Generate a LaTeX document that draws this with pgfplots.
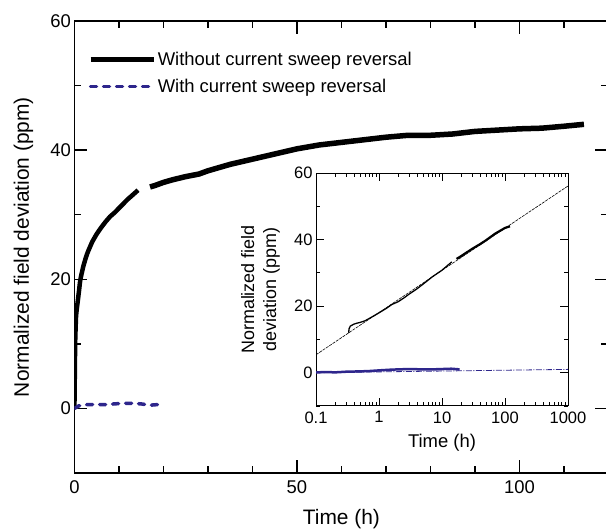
\documentclass[border=0pt]{standalone}
\usepackage{fontspec}
\setmainfont{Liberation Sans}
\usepackage{pgfplots}
\usepackage{pgfplotstable}
\pgfplotsset{compat=1.18}
\definecolor{sweepblue}{RGB}{46,38,140}

\pgfplotstableread{
t y
0 0
0.05 2.5
0.1 6
0.15 9
0.2 11
0.3 13
0.35 14
0.4 14.5
0.5 15.2
0.7 16.3
1.0 18
1.3 19.8
1.6 20.8
2 22
2.5 23.2
3 24.2
3.5 25
4 25.8
5 27
6 28
7 28.9
8 29.7
9 30.3
10 31
11 31.7
12 32.4
13 33
14.3 33.8
}\blackA

\pgfplotstableread{
t y
17 34.3
18 34.5
20 35
22 35.4
25 35.9
28 36.3
30 36.8
35 37.8
40 38.6
45 39.4
50 40.2
55 40.8
60 41.2
65 41.6
70 42
75 42.3
80 42.3
85 42.5
90 42.9
95 43.1
100 43.3
105 43.4
110 43.7
114.5 44
}\blackB

\pgfplotstableread{
t y
0 0
0.5 0.2
1 0.4
2 0.5
3 0.6
5 0.6
7 0.6
9 0.7
11 0.8
13 0.8
15 0.7
17 0.5
18.8 0.6
}\blueMain

\pgfplotstableread{
t y
0.33 12
0.335 13.2
0.35 14
0.4 14.6
0.45 14.9
0.5 15.1
0.6 15.6
0.7 16.3
0.85 17.2
1.0 18
1.3 19.3
1.6 20.5
2 21.3
2.5 22.5
3 23.6
4 25.2
5 26.6
7 28.8
10 30.8
14.3 33.3
}\insetA

\pgfplotstableread{
t y
17 34.2
20 35
30 37.2
40 38.6
50 39.8
70 41.8
100 43.5
120 44
}\insetB

\pgfplotstableread{
t y
0.1 0.1
0.15 0.2
0.2 0.1
0.3 0.3
0.5 0.4
0.7 0.5
1 0.7
1.5 0.9
2 1.0
3 1.1
5 1.0
7 1.0
10 1.1
14 1.2
19 1.0
}\insetBlue

\begin{document}
\begin{tikzpicture}
\useasboundingbox (-74.4bp,-57bp) rectangle (531.6bp,473bp);
\begin{axis}[
  scale only axis, width=534bp, height=452bp,
  xmin=0, xmax=120, ymin=-10, ymax=60,
  xtick={0,50,100}, minor xtick={10,20,30,40,60,70,80,90,110},
  ytick={0,20,40,60}, minor ytick={-10,10,30,50},
  tick align=inside, major tick length=13bp, minor tick length=7bp,
  axis line style={line width=1.4bp},
  every tick/.style={line width=1.3bp, black},
  /pgf/number format/assume math mode=true,
  tick label style={font=\fontsize{18.5}{22}\selectfont},
  xticklabel style={yshift=-4bp},
  xlabel={Time (h)}, ylabel={Normalized field deviation (ppm)},
  label style={font=\fontsize{21}{25}\selectfont},
  xlabel style={at={(axis description cs:0.5,-0.1018)}, anchor=center},
  ylabel style={at={(axis description cs:-0.0955,0.5)}, anchor=center},
  unbounded coords=jump,
  legend style={at={(0.02,0.94)}, anchor=north west, draw=none, fill=none,
    font=\fontsize{18.5}{22}\selectfont, cells={anchor=west}, row sep=8bp},
  legend image code/.code={\draw[#1] (0bp,0bp) -- (63bp,0bp);},
]
\addplot[black, line width=4.5bp] table[x=t,y=y] {\blackA};
\addlegendentry{Without current sweep reversal}
\addplot[sweepblue, line width=3.5bp, line cap=round, dash pattern=on 6bp off 7bp] table[x=t,y=y] {\blueMain};
\addlegendentry{With current sweep reversal}
\addplot[black, line width=5.5bp, forget plot] table[x=t,y=y] {\blackB};
\end{axis}

\begin{axis}[
  at={(241.6bp,67bp)}, anchor=south west,
  scale only axis, width=252bp, height=233bp,
  xmode=log, xmin=0.1, xmax=1000, ymin=-10, ymax=60,
  xtick={0.1,1,10,100,1000}, xticklabels={0.1,1,10,100,1000},
  minor xtick={0.2,0.3,0.4,0.5,0.6,0.7,0.8,0.9,2,3,4,5,6,7,8,9,20,30,40,50,60,70,80,90,200,300,400,500,600,700,800,900},
  ytick={0,20,40,60}, minor ytick={-10,10,30,50},
  tick align=inside, major tick length=8bp, minor tick length=4bp,
  axis line style={line width=1bp},
  every tick/.style={line width=0.8bp, black},
  /pgf/number format/assume math mode=true,
  tick label style={font=\fontsize{16.6}{20}\selectfont},
  xticklabel style={yshift=-2bp},
  xlabel={Time (h)},
  ylabel={Normalized field\\deviation (ppm)},
  xlabel style={font=\fontsize{18.5}{22}\selectfont, at={(axis description cs:0.5,-0.1588)}, anchor=center},
  ylabel style={font=\fontsize{18}{22}\selectfont, align=center, at={(axis description cs:-0.2206,0.5)}, anchor=center},
]
\addplot[black, line width=0.6bp, dash pattern=on 3bp off 1bp] coordinates {(0.1,5.4) (1000,56.1)};
\addplot[sweepblue, line width=0.8bp, dash pattern=on 6bp off 1.5bp on 1bp off 1.5bp] coordinates {(0.1,0) (1000,1.0)};
\addplot[black, line width=1.3bp] table[x=t,y=y] {\insetA};
\addplot[black, line width=2.2bp] table[x=t,y=y] {\insetB};
\addplot[sweepblue, line width=2.5bp] table[x=t,y=y] {\insetBlue};
\end{axis}
\end{tikzpicture}
\end{document}
